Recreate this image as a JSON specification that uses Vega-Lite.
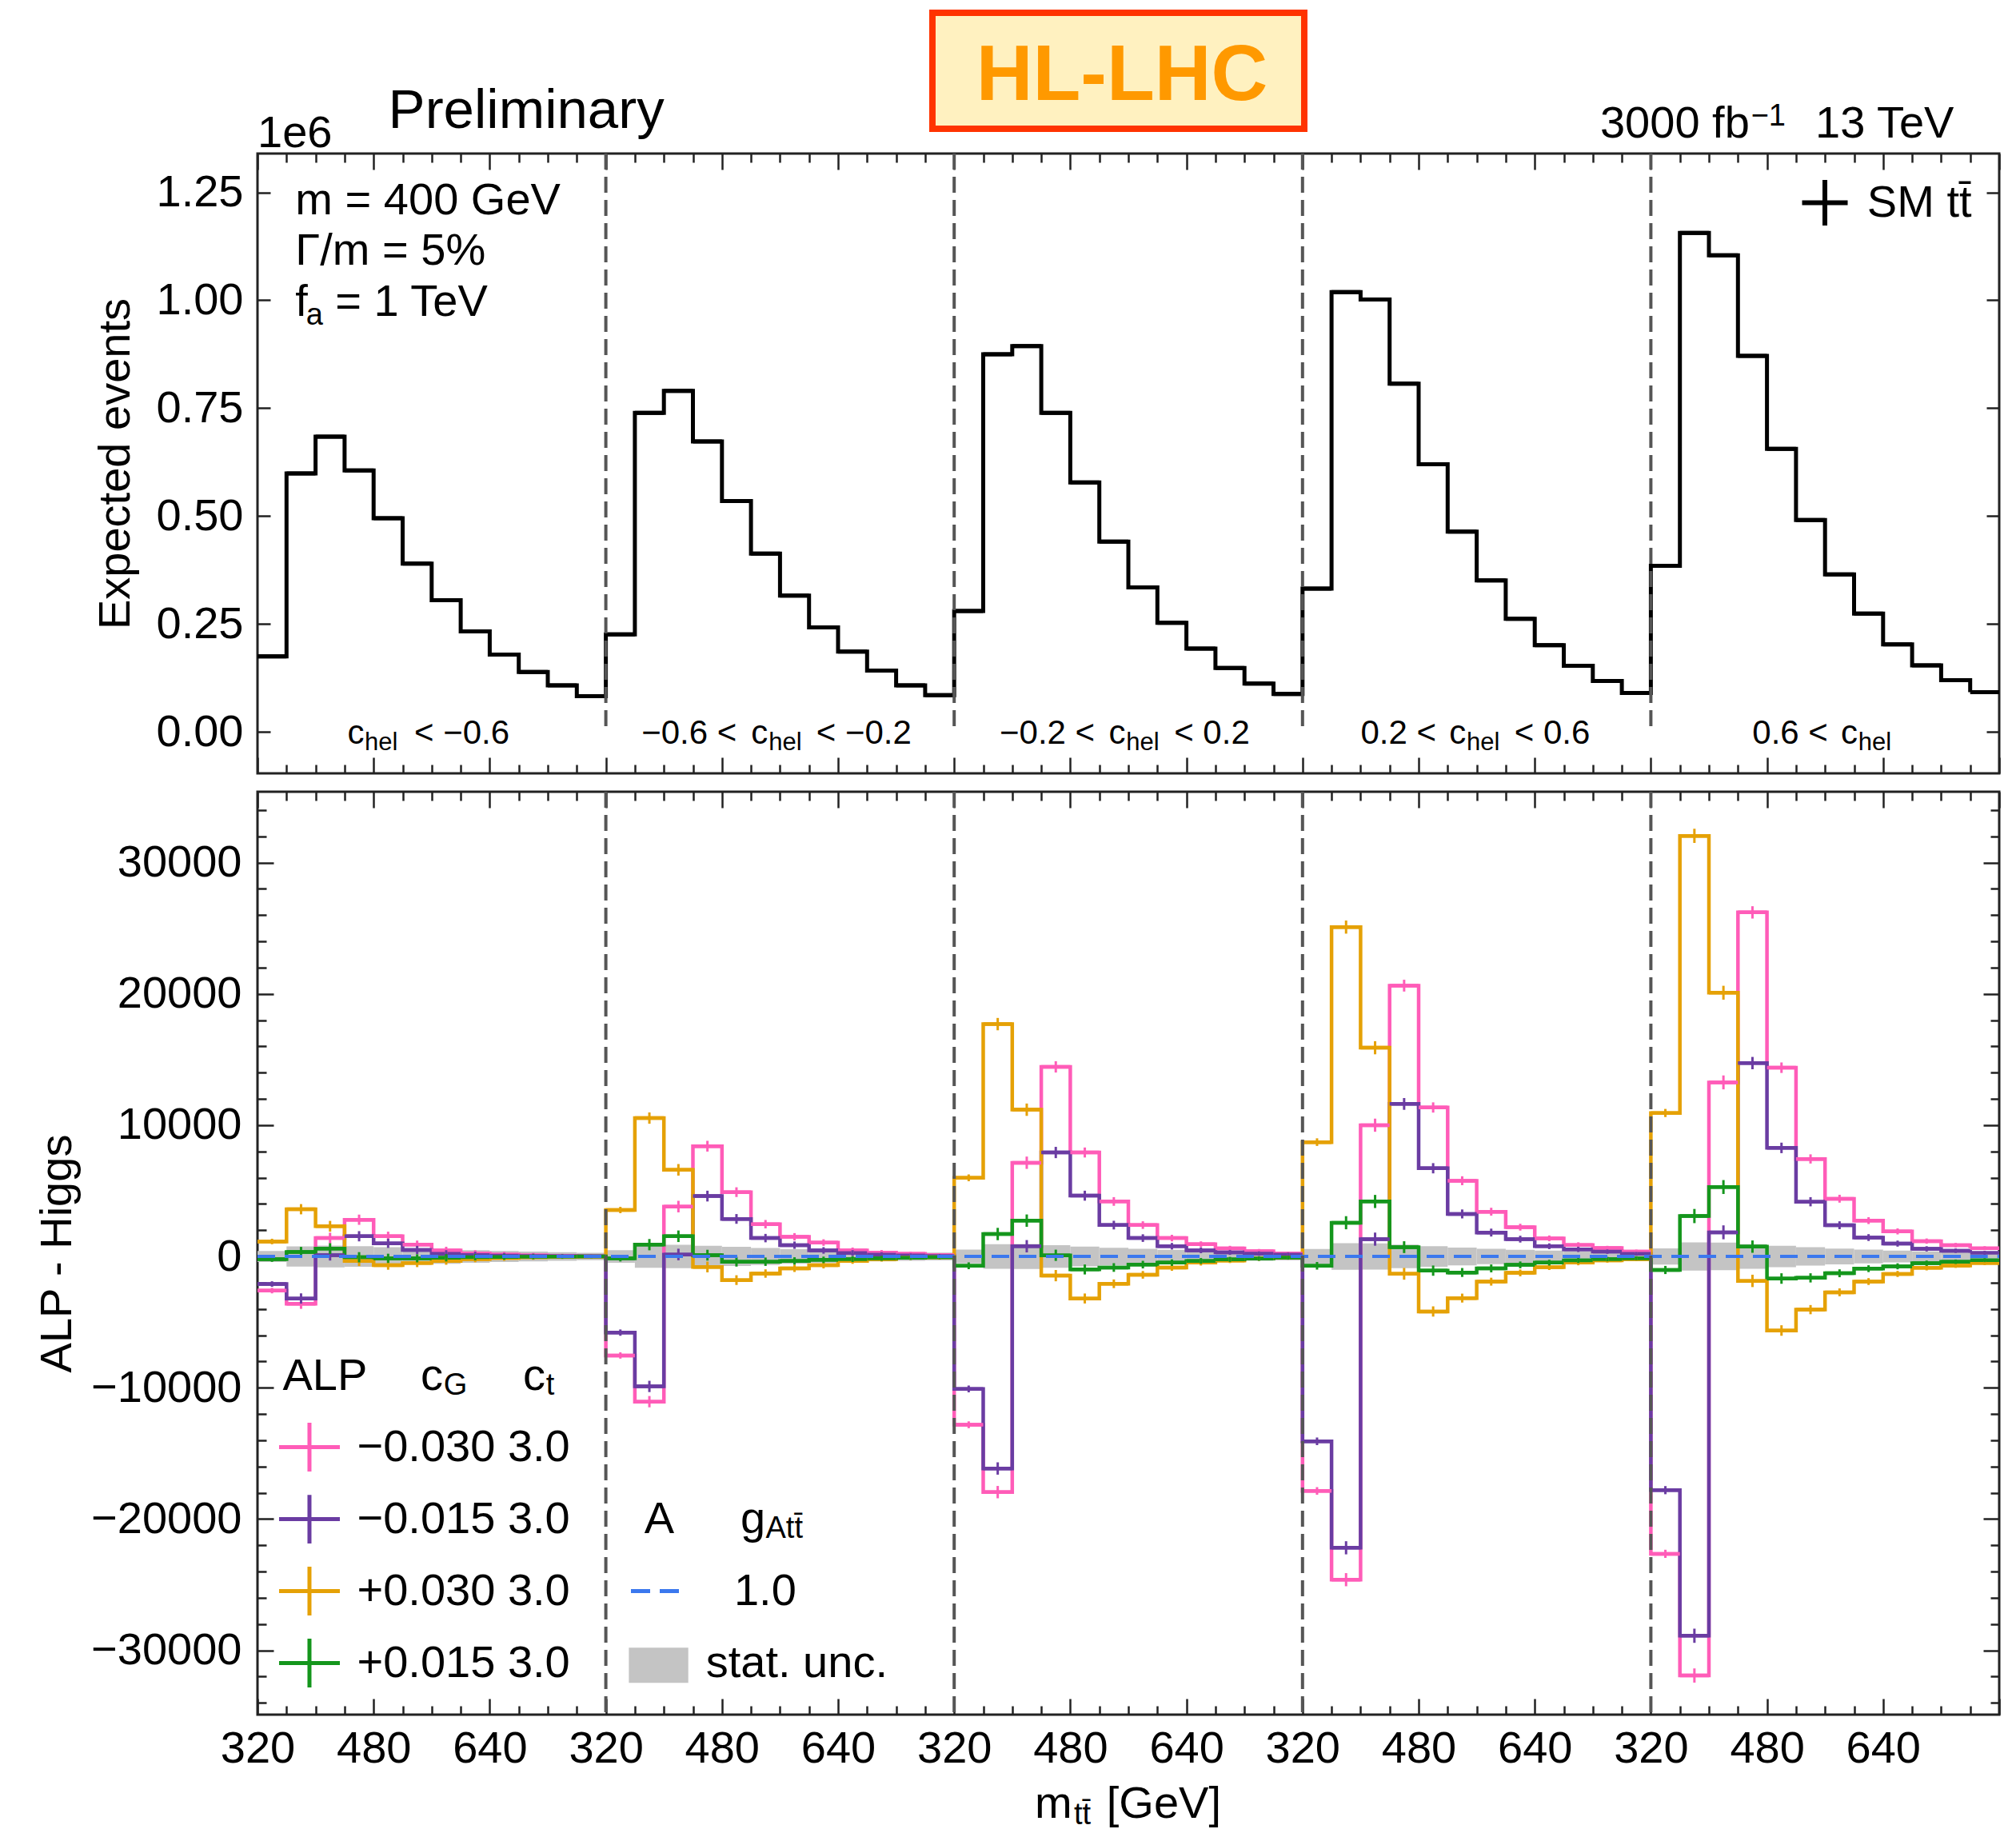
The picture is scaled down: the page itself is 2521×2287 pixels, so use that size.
{
"$schema": "https://vega.github.io/schema/vega-lite/v6.json",
"background": "white",
"padding": {"left": 41, "top": 10, "right": 10, "bottom": 0},
"spacing": 13,
"config": {
  "view": {"stroke": "#222222", "strokeWidth": 3},
  "font": "Liberation Sans",
  "text": {"font": "Liberation Sans", "color": "#000000"},
  "axis": {"domain": false, "grid": false, "labelFont": "Liberation Sans", "labelFontSize": 56, "labelColor": "#000000", "labelLimit": 500, "titleFont": "Liberation Sans", "titleFontSize": 56, "titleFontWeight": "normal", "titleColor": "#000000", "tickColor": "#222222", "tickWidth": 2.5, "labelFlush": false, "labelOverlap": false}
},
"datasets": {
  "bins": [
    {"lo":320,"hi":360,"c":340,"sm":175000,"pk":-2600,"pu":-2100,"og":1140,"gr":-200,"a":0,"ul":-418,"uh":418,"err":210},
    {"lo":360,"hi":400,"c":380,"sm":599000,"pk":-3600,"pu":-3200,"og":3600,"gr":340,"a":0,"ul":-774,"uh":774,"err":390},
    {"lo":400,"hi":440,"c":420,"sm":684000,"pk":1400,"pu":100,"og":2300,"gr":600,"a":0,"ul":-827,"uh":827,"err":410},
    {"lo":440,"hi":480,"c":460,"sm":606000,"pk":2800,"pu":1540,"og":-340,"gr":-60,"a":0,"ul":-778,"uh":778,"err":390},
    {"lo":480,"hi":520,"c":500,"sm":495000,"pk":1540,"pu":1000,"og":-660,"gr":-140,"a":0,"ul":-704,"uh":704,"err":350},
    {"lo":520,"hi":560,"c":540,"sm":390000,"pk":900,"pu":500,"og":-500,"gr":-140,"a":0,"ul":-624,"uh":624,"err":310},
    {"lo":560,"hi":600,"c":580,"sm":305000,"pk":460,"pu":200,"og":-350,"gr":-100,"a":0,"ul":-552,"uh":552,"err":280},
    {"lo":600,"hi":640,"c":620,"sm":233000,"pk":240,"pu":120,"og":-200,"gr":-60,"a":0,"ul":-483,"uh":483,"err":240},
    {"lo":640,"hi":680,"c":660,"sm":179000,"pk":140,"pu":60,"og":-120,"gr":-40,"a":0,"ul":-423,"uh":423,"err":210},
    {"lo":680,"hi":720,"c":700,"sm":139000,"pk":80,"pu":30,"og":-60,"gr":-20,"a":0,"ul":-373,"uh":373,"err":190},
    {"lo":720,"hi":760,"c":740,"sm":108000,"pk":40,"pu":20,"og":-30,"gr":-10,"a":0,"ul":-329,"uh":329,"err":160},
    {"lo":760,"hi":800,"c":780,"sm":83000,"pk":20,"pu":10,"og":-10,"gr":0,"a":0,"ul":-288,"uh":288,"err":140},
    {"lo":800,"hi":840,"c":820,"sm":226000,"pk":-7540,"pu":-5800,"og":3540,"gr":-140,"a":0,"ul":-475,"uh":475,"err":240},
    {"lo":840,"hi":880,"c":860,"sm":739000,"pk":-11060,"pu":-9900,"og":10540,"gr":900,"a":0,"ul":-860,"uh":860,"err":430},
    {"lo":880,"hi":920,"c":900,"sm":790000,"pk":3800,"pu":150,"og":6600,"gr":1540,"a":0,"ul":-889,"uh":889,"err":440},
    {"lo":920,"hi":960,"c":940,"sm":673000,"pk":8400,"pu":4600,"og":-800,"gr":100,"a":0,"ul":-820,"uh":820,"err":410},
    {"lo":960,"hi":1000,"c":980,"sm":535000,"pk":4900,"pu":2860,"og":-1800,"gr":-400,"a":0,"ul":-731,"uh":731,"err":370},
    {"lo":1000,"hi":1040,"c":1020,"sm":413000,"pk":2460,"pu":1400,"og":-1300,"gr":-400,"a":0,"ul":-643,"uh":643,"err":320},
    {"lo":1040,"hi":1080,"c":1060,"sm":316000,"pk":1500,"pu":860,"og":-900,"gr":-340,"a":0,"ul":-562,"uh":562,"err":280},
    {"lo":1080,"hi":1120,"c":1100,"sm":242000,"pk":1060,"pu":460,"og":-660,"gr":-260,"a":0,"ul":-492,"uh":492,"err":250},
    {"lo":1120,"hi":1160,"c":1140,"sm":186000,"pk":460,"pu":260,"og":-340,"gr":-200,"a":0,"ul":-431,"uh":431,"err":220},
    {"lo":1160,"hi":1200,"c":1180,"sm":142000,"pk":300,"pu":140,"og":-200,"gr":-140,"a":0,"ul":-377,"uh":377,"err":190},
    {"lo":1200,"hi":1240,"c":1220,"sm":108000,"pk":200,"pu":80,"og":-100,"gr":-100,"a":0,"ul":-329,"uh":329,"err":160},
    {"lo":1240,"hi":1280,"c":1260,"sm":85000,"pk":100,"pu":40,"og":-60,"gr":-60,"a":0,"ul":-292,"uh":292,"err":150},
    {"lo":1280,"hi":1320,"c":1300,"sm":280000,"pk":-12820,"pu":-10090,"og":5990,"gr":-710,"a":0,"ul":-529,"uh":529,"err":260},
    {"lo":1320,"hi":1360,"c":1340,"sm":875000,"pk":-17950,"pu":-16150,"og":17700,"gr":1710,"a":0,"ul":-935,"uh":935,"err":470},
    {"lo":1360,"hi":1400,"c":1380,"sm":894000,"pk":7140,"pu":780,"og":11180,"gr":2730,"a":0,"ul":-946,"uh":946,"err":470},
    {"lo":1400,"hi":1440,"c":1420,"sm":739000,"pk":14440,"pu":7920,"og":-1460,"gr":90,"a":0,"ul":-860,"uh":860,"err":430},
    {"lo":1440,"hi":1480,"c":1460,"sm":578000,"pk":7920,"pu":4630,"og":-3200,"gr":-990,"a":0,"ul":-760,"uh":760,"err":380},
    {"lo":1480,"hi":1520,"c":1500,"sm":441000,"pk":4190,"pu":2390,"og":-2080,"gr":-840,"a":0,"ul":-664,"uh":664,"err":330},
    {"lo":1520,"hi":1560,"c":1540,"sm":335000,"pk":2390,"pu":1400,"og":-1400,"gr":-620,"a":0,"ul":-579,"uh":579,"err":290},
    {"lo":1560,"hi":1600,"c":1580,"sm":253000,"pk":1400,"pu":780,"og":-840,"gr":-470,"a":0,"ul":-503,"uh":503,"err":250},
    {"lo":1600,"hi":1640,"c":1620,"sm":193000,"pk":930,"pu":470,"og":-470,"gr":-340,"a":0,"ul":-439,"uh":439,"err":220},
    {"lo":1640,"hi":1680,"c":1660,"sm":148000,"pk":620,"pu":310,"og":-310,"gr":-220,"a":0,"ul":-385,"uh":385,"err":190},
    {"lo":1680,"hi":1720,"c":1700,"sm":112000,"pk":400,"pu":220,"og":-160,"gr":-160,"a":0,"ul":-335,"uh":335,"err":170},
    {"lo":1720,"hi":1760,"c":1740,"sm":88000,"pk":220,"pu":150,"og":-90,"gr":-90,"a":0,"ul":-297,"uh":297,"err":150},
    {"lo":1760,"hi":1800,"c":1780,"sm":332000,"pk":-17860,"pu":-14080,"og":8710,"gr":-710,"a":0,"ul":-576,"uh":576,"err":290},
    {"lo":1800,"hi":1840,"c":1820,"sm":1019000,"pk":-24620,"pu":-22190,"og":25090,"gr":2570,"a":0,"ul":-1009,"uh":1009,"err":500},
    {"lo":1840,"hi":1880,"c":1860,"sm":1002000,"pk":10000,"pu":1320,"og":15900,"gr":4190,"a":0,"ul":-1001,"uh":1001,"err":500},
    {"lo":1880,"hi":1920,"c":1900,"sm":807000,"pk":20630,"pu":11620,"og":-1320,"gr":710,"a":0,"ul":-898,"uh":898,"err":450},
    {"lo":1920,"hi":1960,"c":1940,"sm":620000,"pk":11350,"pu":6720,"og":-4190,"gr":-1080,"a":0,"ul":-787,"uh":787,"err":390},
    {"lo":1960,"hi":2000,"c":1980,"sm":464000,"pk":5770,"pu":3240,"og":-3170,"gr":-1220,"a":0,"ul":-681,"uh":681,"err":340},
    {"lo":2000,"hi":2040,"c":2020,"sm":351000,"pk":3410,"pu":1820,"og":-1920,"gr":-910,"a":0,"ul":-592,"uh":592,"err":300},
    {"lo":2040,"hi":2080,"c":2060,"sm":262000,"pk":2230,"pu":1320,"og":-1250,"gr":-640,"a":0,"ul":-512,"uh":512,"err":260},
    {"lo":2080,"hi":2120,"c":2100,"sm":201000,"pk":1380,"pu":780,"og":-810,"gr":-470,"a":0,"ul":-448,"uh":448,"err":220},
    {"lo":2120,"hi":2160,"c":2140,"sm":153000,"pk":880,"pu":540,"og":-470,"gr":-300,"a":0,"ul":-391,"uh":391,"err":200},
    {"lo":2160,"hi":2200,"c":2180,"sm":118000,"pk":640,"pu":370,"og":-300,"gr":-200,"a":0,"ul":-344,"uh":344,"err":170},
    {"lo":2200,"hi":2240,"c":2220,"sm":90000,"pk":370,"pu":200,"og":-200,"gr":-140,"a":0,"ul":-300,"uh":300,"err":150},
    {"lo":2240,"hi":2280,"c":2260,"sm":385000,"pk":-22650,"pu":-17800,"og":10930,"gr":-1030,"a":0,"ul":-620,"uh":620,"err":310},
    {"lo":2280,"hi":2320,"c":2300,"sm":1156000,"pk":-31920,"pu":-28890,"og":32040,"gr":3080,"a":0,"ul":-1075,"uh":1075,"err":540},
    {"lo":2320,"hi":2360,"c":2340,"sm":1104000,"pk":13260,"pu":1840,"og":20090,"gr":5290,"a":0,"ul":-1051,"uh":1051,"err":530},
    {"lo":2360,"hi":2400,"c":2380,"sm":871000,"pk":26210,"pu":14730,"og":-1860,"gr":750,"a":0,"ul":-933,"uh":933,"err":470},
    {"lo":2400,"hi":2440,"c":2420,"sm":656000,"pk":14380,"pu":8270,"og":-5640,"gr":-1680,"a":0,"ul":-810,"uh":810,"err":400},
    {"lo":2440,"hi":2480,"c":2460,"sm":491000,"pk":7430,"pu":4170,"og":-4050,"gr":-1630,"a":0,"ul":-701,"uh":701,"err":350},
    {"lo":2480,"hi":2520,"c":2500,"sm":365000,"pk":4400,"pu":2380,"og":-2730,"gr":-1280,"a":0,"ul":-604,"uh":604,"err":300},
    {"lo":2520,"hi":2560,"c":2540,"sm":274000,"pk":2730,"pu":1440,"og":-1910,"gr":-930,"a":0,"ul":-523,"uh":523,"err":260},
    {"lo":2560,"hi":2600,"c":2580,"sm":203000,"pk":1910,"pu":980,"og":-1330,"gr":-750,"a":0,"ul":-451,"uh":451,"err":230},
    {"lo":2600,"hi":2640,"c":2620,"sm":154000,"pk":1170,"pu":580,"og":-860,"gr":-510,"a":0,"ul":-392,"uh":392,"err":200},
    {"lo":2640,"hi":2680,"c":2660,"sm":120000,"pk":860,"pu":440,"og":-700,"gr":-400,"a":0,"ul":-346,"uh":346,"err":170},
    {"lo":2680,"hi":2720,"c":2700,"sm":92000,"pk":630,"pu":280,"og":-510,"gr":-280,"a":0,"ul":-303,"uh":303,"err":150}
  ],
  "bounds": [{"b":800},{"b":1280},{"b":1760},{"b":2240}],
  "ann": [
    {"g":"info","x":372.2,"y":1199735,"t":"m = 400 GeV"},
    {"g":"info","x":372.2,"y":1082270,"t":"Γ/m = 5%"},
    {"g":"info","x":372.2,"y":964610,"t":"f"},
    {"g":"info","x":427.2,"y":964610,"t":"= 1 TeV"},
    {"g":"info","x":320,"y":1355380,"t":"1e6"},
    {"g":"info","x":2170.1,"y":1377060,"t":"3000 fb"},
    {"g":"info","x":2466.6,"y":1377060,"t":"13 TeV"},
    {"g":"info","x":2538,"y":1193620,"t":"SM tt̄"},
    {"g":"infosub","x":387,"y":943860,"t":"a"},
    {"g":"infosub","x":2378,"y":1404850,"t":"−1"},
    {"g":"prelim","x":500.3,"y":1399290,"t":"Preliminary"},
    {"g":"hl","x":1511.2,"y":1464140,"t":"HL-LHC"},
    {"g":"hlbox","x":1250,"x2":1762.4,"y":1397440,"y2":1666110},
    {"g":"smcross","x":2479.8,"y":1226050},
    {"g":"chel","x":444.0,"y":-28180,"t":"c"},
    {"g":"chel","x":536.0,"y":-28180,"t":"< −0.6"},
    {"g":"chel","x":849.1,"y":-28180,"t":"−0.6 <"},
    {"g":"chel","x":1000.3,"y":-28180,"t":"c"},
    {"g":"chel","x":1090.0,"y":-28180,"t":"< −0.2"},
    {"g":"chel","x":1342.6,"y":-28180,"t":"−0.2 <"},
    {"g":"chel","x":1492.9,"y":-28180,"t":"c"},
    {"g":"chel","x":1583.0,"y":-28180,"t":"< 0.2"},
    {"g":"chel","x":1840.1,"y":-28180,"t":"0.2 <"},
    {"g":"chel","x":1962.1,"y":-28180,"t":"c"},
    {"g":"chel","x":2052.0,"y":-28180,"t":"< 0.6"},
    {"g":"chel","x":2379.8,"y":-28180,"t":"0.6 <"},
    {"g":"chel","x":2501.8,"y":-28180,"t":"c"},
    {"g":"chelsub","x":467.7,"y":-42260,"t":"hel"},
    {"g":"chelsub","x":1024.3,"y":-42260,"t":"hel"},
    {"g":"chelsub","x":1516.9,"y":-42260,"t":"hel"},
    {"g":"chelsub","x":1986.1,"y":-42260,"t":"hel"},
    {"g":"chelsub","x":2525.8,"y":-42260,"t":"hel"},
    {"g":"leg","x":354.6,"y":-9133,"t":"ALP"},
    {"g":"leg","x":544.8,"y":-9133,"t":"c"},
    {"g":"leg","x":685.8,"y":-9133,"t":"c"},
    {"g":"leg","x":457.2,"y":-14524,"t":"−0.030 3.0"},
    {"g":"leg","x":457.2,"y":-20007,"t":"−0.015 3.0"},
    {"g":"leg","x":457.2,"y":-25489,"t":"+0.030 3.0"},
    {"g":"leg","x":457.2,"y":-30972,"t":"+0.015 3.0"},
    {"g":"leg","x":853.1,"y":-20007,"t":"A"},
    {"g":"leg","x":985.6,"y":-20007,"t":"g"},
    {"g":"leg","x":976.7,"y":-25489,"t":"1.0"},
    {"g":"leg","x":937.9,"y":-30972,"t":"stat. unc."},
    {"g":"legsub","x":576.4,"y":-9864,"t":"G"},
    {"g":"legsub","x":717.5,"y":-9864,"t":"t"},
    {"g":"legsub","x":1020.3,"y":-20737,"t":"Att̄"},
    {"g":"legcross","x":391.6,"y":-14524,"ser":"pk"},
    {"g":"legcross","x":391.6,"y":-20007,"ser":"pu"},
    {"g":"legcross","x":391.6,"y":-25489,"ser":"og"},
    {"g":"legcross","x":391.6,"y":-30972,"ser":"gr"},
    {"g":"legdash","x":834.6,"x2":900.7,"y":-25489},
    {"g":"legbox","x":831.7,"x2":913.6,"y":-29805,"y2":-32486},
    {"g":"xt","x":1391.1,"y":-42760,"t":"m"},
    {"g":"xt","x":1490.0,"y":-42760,"t":"[GeV]"},
    {"g":"xtsub","x":1445.1,"y":-43250,"t":"tt̄"}
  ]
},
"vconcat": [
  {
    "width": 2178, "height": 775,
    "resolve": {"axis": {"x": "independent", "y": "independent"}},
    "layer": [
      {
        "data": {"name": "bins"},
        "mark": {"type": "line", "interpolate": "step-after", "color": "#000000", "strokeWidth": 5},
        "encoding": {
          "x": {"field": "lo", "type": "quantitative", "scale": {"domain": [320, 2720], "nice": false, "zero": false},
                "axis": {"orient": "bottom", "values": [320,360,400,440,480,520,560,600,640,680,720,760,800,840,880,920,960,1000,1040,1080,1120,1160,1200,1240,1280,1320,1360,1400,1440,1480,1520,1560,1600,1640,1680,1720,1760,1800,1840,1880,1920,1960,2000,2040,2080,2120,2160,2200,2240,2280,2320,2360,2400,2440,2480,2520,2560,2600,2640,2680,2720], "labels": false, "title": null,
                         "tickSize": {"condition": {"test": "(datum.value-320)%160==0", "value": -20}, "value": -11}}},
          "y": {"field": "sm", "type": "quantitative", "scale": {"domain": [-96000, 1340000], "nice": false, "zero": false},
                "axis": {"orient": "left", "values": [0,250000,500000,750000,1000000,1250000], "labelExpr": "format(datum.value/1000000,'.2f')", "tickSize": -16, "labelPadding": 34, "title": "Expected events", "titlePadding": 22}}
        }
      },
      {
        "data": {"name": "bins"},
        "mark": {"type": "rule", "color": "#000000", "strokeWidth": 5},
        "encoding": {
          "x": {"field": "lo", "type": "quantitative", "scale": {"domain": [320, 2720], "nice": false, "zero": false},
                "axis": {"orient": "top", "values": [320,360,400,440,480,520,560,600,640,680,720,760,800,840,880,920,960,1000,1040,1080,1120,1160,1200,1240,1280,1320,1360,1400,1440,1480,1520,1560,1600,1640,1680,1720,1760,1800,1840,1880,1920,1960,2000,2040,2080,2120,2160,2200,2240,2280,2320,2360,2400,2440,2480,2520,2560,2600,2640,2680,2720], "labels": false, "title": null,
                         "tickSize": {"condition": {"test": "(datum.value-320)%160==0", "value": -20}, "value": -11}}},
          "x2": {"field": "hi"},
          "y": {"field": "sm", "type": "quantitative", "scale": {"domain": [-96000, 1340000], "nice": false, "zero": false},
                "axis": {"orient": "right", "values": [0,250000,500000,750000,1000000,1250000], "labels": false, "title": null, "tickSize": -16}}
        }
      },
      {
        "data": {"name": "bounds"},
        "mark": {"type": "rule", "color": "#555555", "strokeWidth": 4, "strokeDash": [20, 9]},
        "encoding": {
          "x": {"field": "b", "type": "quantitative", "scale": {"domain": [320, 2720], "nice": false, "zero": false}, "axis": null},
          "y": {"datum": 1340000, "type": "quantitative", "scale": {"domain": [-96000, 1340000], "nice": false, "zero": false}, "axis": null},
          "y2": {"datum": 0}
        }
      },
      {
        "data": {"name": "ann"}, "transform": [{"filter": "datum.g=='info'"}],
        "mark": {"type": "text", "align": "left", "baseline": "alphabetic", "fontSize": 56},
        "encoding": {"x": {"field": "x", "type": "quantitative", "axis": null}, "y": {"field": "y", "type": "quantitative", "axis": null}, "text": {"field": "t"}}
      },
      {
        "data": {"name": "ann"}, "transform": [{"filter": "datum.g=='infosub'"}],
        "mark": {"type": "text", "align": "left", "baseline": "alphabetic", "fontSize": 38},
        "encoding": {"x": {"field": "x", "type": "quantitative", "axis": null}, "y": {"field": "y", "type": "quantitative", "axis": null}, "text": {"field": "t"}}
      },
      {
        "data": {"name": "ann"}, "transform": [{"filter": "datum.g=='prelim'"}],
        "mark": {"type": "text", "align": "left", "baseline": "alphabetic", "fontSize": 69},
        "encoding": {"x": {"field": "x", "type": "quantitative", "axis": null}, "y": {"field": "y", "type": "quantitative", "axis": null}, "text": {"field": "t"}}
      },
      {
        "data": {"name": "ann"}, "transform": [{"filter": "datum.g=='hlbox'"}],
        "mark": {"type": "rect", "fill": "#FFF1C0", "stroke": "#FF3300", "strokeWidth": 8},
        "encoding": {"x": {"field": "x", "type": "quantitative", "axis": null}, "x2": {"field": "x2"}, "y": {"field": "y", "type": "quantitative", "axis": null}, "y2": {"field": "y2"}}
      },
      {
        "data": {"name": "ann"}, "transform": [{"filter": "datum.g=='hl'"}],
        "mark": {"type": "text", "align": "center", "baseline": "alphabetic", "fontSize": 98, "fontWeight": "bold", "color": "#FF9900"},
        "encoding": {"x": {"field": "x", "type": "quantitative", "axis": null}, "y": {"field": "y", "type": "quantitative", "axis": null}, "text": {"field": "t"}}
      },
      {
        "data": {"name": "ann"}, "transform": [{"filter": "datum.g=='smcross'"}],
        "mark": {"type": "point", "shape": "M-1,0H1M0,-1V1", "filled": false, "size": 3250, "strokeWidth": 6, "color": "#000000", "opacity": 1},
        "encoding": {"x": {"field": "x", "type": "quantitative", "axis": null}, "y": {"field": "y", "type": "quantitative", "axis": null}}
      },
      {
        "data": {"name": "ann"}, "transform": [{"filter": "datum.g=='chel'"}],
        "mark": {"type": "text", "align": "left", "baseline": "alphabetic", "fontSize": 42},
        "encoding": {"x": {"field": "x", "type": "quantitative", "axis": null}, "y": {"field": "y", "type": "quantitative", "axis": null}, "text": {"field": "t"}}
      },
      {
        "data": {"name": "ann"}, "transform": [{"filter": "datum.g=='chelsub'"}],
        "mark": {"type": "text", "align": "left", "baseline": "alphabetic", "fontSize": 31},
        "encoding": {"x": {"field": "x", "type": "quantitative", "axis": null}, "y": {"field": "y", "type": "quantitative", "axis": null}, "text": {"field": "t"}}
      }
    ]
  },
  {
    "width": 2178, "height": 1154,
    "resolve": {"axis": {"x": "independent", "y": "independent"}},
    "layer": [
      {
        "data": {"name": "bins"},
        "mark": {"type": "rect", "color": "#C4C4C4"},
        "encoding": {
          "x": {"field": "lo", "type": "quantitative", "scale": {"domain": [320, 2720], "nice": false, "zero": false}, "axis": null},
          "x2": {"field": "hi"},
          "y": {"field": "ul", "type": "quantitative", "scale": {"domain": [-34900, 35400], "nice": false, "zero": false}, "axis": null},
          "y2": {"field": "uh"}
        }
      },
      {
        "data": {"name": "bins"},
        "transform": [{"fold": ["pk", "pu", "og", "gr"], "as": ["ser", "val"]}],
        "mark": {"type": "line", "interpolate": "step-after", "strokeWidth": 4.5},
        "encoding": {
          "x": {"field": "lo", "type": "quantitative", "scale": {"domain": [320, 2720], "nice": false, "zero": false},
                "axis": {"orient": "bottom", "values": [320,360,400,440,480,520,560,600,640,680,720,760,800,840,880,920,960,1000,1040,1080,1120,1160,1200,1240,1280,1320,1360,1400,1440,1480,1520,1560,1600,1640,1680,1720,1760,1800,1840,1880,1920,1960,2000,2040,2080,2120,2160,2200,2240,2280,2320,2360,2400,2440,2480,2520,2560,2600,2640,2680,2720], "title": null,
                         "labelExpr": "(datum.value-320)%160==0 && datum.value<2700 ? format((datum.value-320)%480+320,'d') : ''",
                         "tickSize": {"condition": {"test": "(datum.value-320)%160==0", "value": -20}, "value": -11}, "labelPadding": 35}},
          "y": {"field": "val", "type": "quantitative", "scale": {"domain": [-34900, 35400], "nice": false, "zero": false},
                "axis": {"orient": "left", "values": [-34000,-32000,-30000,-28000,-26000,-24000,-22000,-20000,-18000,-16000,-14000,-12000,-10000,-8000,-6000,-4000,-2000,0,2000,4000,6000,8000,10000,12000,14000,16000,18000,20000,22000,24000,26000,28000,30000,32000,34000],
                         "labelExpr": "datum.value%10000==0 ? format(datum.value,'d') : ''",
                         "tickSize": {"condition": {"test": "datum.value%10000==0", "value": -20}, "value": -11}, "labelPadding": 40, "title": "ALP - Higgs", "titlePadding": 22}},
          "color": {"field": "ser", "type": "nominal", "scale": {"domain": ["pk", "pu", "og", "gr"], "range": ["#FF5CB8", "#6A3CA2", "#E5A106", "#14961C"]}, "legend": null}
        }
      },
      {
        "data": {"name": "bins"},
        "transform": [{"fold": ["pk", "pu", "og", "gr"], "as": ["ser", "val"]}],
        "mark": {"type": "rule", "strokeWidth": 4.5},
        "encoding": {
          "x": {"field": "lo", "type": "quantitative", "scale": {"domain": [320, 2720], "nice": false, "zero": false},
                "axis": {"orient": "top", "values": [320,360,400,440,480,520,560,600,640,680,720,760,800,840,880,920,960,1000,1040,1080,1120,1160,1200,1240,1280,1320,1360,1400,1440,1480,1520,1560,1600,1640,1680,1720,1760,1800,1840,1880,1920,1960,2000,2040,2080,2120,2160,2200,2240,2280,2320,2360,2400,2440,2480,2520,2560,2600,2640,2680,2720], "labels": false, "title": null,
                         "tickSize": {"condition": {"test": "(datum.value-320)%160==0", "value": -20}, "value": -11}}},
          "x2": {"field": "hi"},
          "y": {"field": "val", "type": "quantitative", "scale": {"domain": [-34900, 35400], "nice": false, "zero": false},
                "axis": {"orient": "right", "values": [-34000,-32000,-30000,-28000,-26000,-24000,-22000,-20000,-18000,-16000,-14000,-12000,-10000,-8000,-6000,-4000,-2000,0,2000,4000,6000,8000,10000,12000,14000,16000,18000,20000,22000,24000,26000,28000,30000,32000,34000], "labels": false, "title": null,
                         "tickSize": {"condition": {"test": "datum.value%10000==0", "value": -20}, "value": -11}}},
          "color": {"field": "ser", "type": "nominal", "legend": null}
        }
      },
      {
        "data": {"name": "bins"},
        "transform": [{"fold": ["pk", "pu", "og", "gr"], "as": ["ser", "val"]}],
        "mark": {"type": "errorbar", "thickness": 3},
        "encoding": {
          "x": {"field": "c", "type": "quantitative", "axis": null},
          "y": {"field": "val", "type": "quantitative", "axis": null},
          "yError": {"field": "err"},
          "color": {"field": "ser", "type": "nominal", "legend": null}
        }
      },
      {
        "data": {"name": "bins"},
        "mark": {"type": "line", "interpolate": "step-after", "color": "#3B78EE", "strokeWidth": 4, "strokeDash": [22, 12]},
        "encoding": {
          "x": {"field": "lo", "type": "quantitative", "axis": null},
          "y": {"field": "a", "type": "quantitative", "axis": null}
        }
      },
      {
        "data": {"name": "bins"}, "transform": [{"filter": "datum.lo==2680"}],
        "mark": {"type": "rule", "color": "#3B78EE", "strokeWidth": 4, "strokeDash": [22, 12]},
        "encoding": {
          "x": {"field": "lo", "type": "quantitative", "axis": null},
          "x2": {"field": "hi"},
          "y": {"field": "a", "type": "quantitative", "axis": null}
        }
      },
      {
        "data": {"name": "bounds"},
        "mark": {"type": "rule", "color": "#555555", "strokeWidth": 4, "strokeDash": [20, 9]},
        "encoding": {
          "x": {"field": "b", "type": "quantitative", "axis": null},
          "y": {"datum": 35400, "type": "quantitative", "axis": null},
          "y2": {"datum": -34900}
        }
      },
      {
        "data": {"name": "ann"}, "transform": [{"filter": "datum.g=='leg'"}],
        "mark": {"type": "text", "align": "left", "baseline": "middle", "fontSize": 56},
        "encoding": {"x": {"field": "x", "type": "quantitative", "axis": null}, "y": {"field": "y", "type": "quantitative", "axis": null}, "text": {"field": "t"}}
      },
      {
        "data": {"name": "ann"}, "transform": [{"filter": "datum.g=='legsub'"}],
        "mark": {"type": "text", "align": "left", "baseline": "middle", "fontSize": 38},
        "encoding": {"x": {"field": "x", "type": "quantitative", "axis": null}, "y": {"field": "y", "type": "quantitative", "axis": null}, "text": {"field": "t"}}
      },
      {
        "data": {"name": "ann"}, "transform": [{"filter": "datum.g=='legcross'"}],
        "mark": {"type": "point", "shape": "M-1,0H1M0,-0.8V0.8", "filled": false, "size": 5776, "strokeWidth": 5, "opacity": 1},
        "encoding": {"x": {"field": "x", "type": "quantitative", "axis": null}, "y": {"field": "y", "type": "quantitative", "axis": null},
                     "color": {"field": "ser", "type": "nominal", "legend": null}}
      },
      {
        "data": {"name": "ann"}, "transform": [{"filter": "datum.g=='legdash'"}],
        "mark": {"type": "rule", "color": "#3B78EE", "strokeWidth": 5, "strokeDash": [24, 12]},
        "encoding": {"x": {"field": "x", "type": "quantitative", "axis": null}, "x2": {"field": "x2"}, "y": {"field": "y", "type": "quantitative", "axis": null}}
      },
      {
        "data": {"name": "ann"}, "transform": [{"filter": "datum.g=='legbox'"}],
        "mark": {"type": "rect", "color": "#C4C4C4"},
        "encoding": {"x": {"field": "x", "type": "quantitative", "axis": null}, "x2": {"field": "x2"}, "y": {"field": "y", "type": "quantitative", "axis": null}, "y2": {"field": "y2"}}
      },
      {
        "data": {"name": "ann"}, "transform": [{"filter": "datum.g=='xt'"}],
        "mark": {"type": "text", "align": "left", "baseline": "alphabetic", "fontSize": 56},
        "encoding": {"x": {"field": "x", "type": "quantitative", "axis": null}, "y": {"field": "y", "type": "quantitative", "axis": null}, "text": {"field": "t"}}
      },
      {
        "data": {"name": "ann"}, "transform": [{"filter": "datum.g=='xtsub'"}],
        "mark": {"type": "text", "align": "left", "baseline": "alphabetic", "fontSize": 38},
        "encoding": {"x": {"field": "x", "type": "quantitative", "axis": null}, "y": {"field": "y", "type": "quantitative", "axis": null}, "text": {"field": "t"}}
      }
    ]
  }
]
}
